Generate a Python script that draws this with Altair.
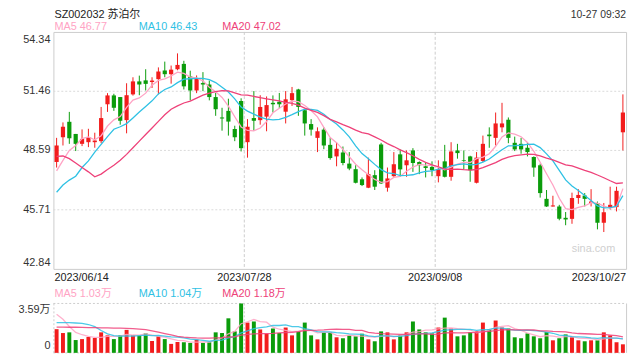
import altair as alt
import pandas as pd

# ---------------- data ----------------
holidays = ["2023-06-22", "2023-06-23", "2023-09-29", "2023-10-02", "2023-10-03",
            "2023-10-04", "2023-10-05", "2023-10-06"]
dates = [d.strftime("%Y-%m-%d") for d in pd.bdate_range("2023-06-14", "2023-10-27")
         if d.strftime("%Y-%m-%d") not in holidays]

opens = [
    48.03, 49.23, 49.98, 49.39, 48.91, 48.99, 48.99, 49.04, 50.83, 51.26,
    51.18, 50.06, 51.31, 51.94, 51.99, 51.91, 52.05, 52.47, 52.29, 52.53,
    52.79, 52.18, 51.50, 51.86, 51.79, 51.18, 50.19, 50.51, 49.63, 50.99,
    48.99, 50.16, 50.06, 50.23, 50.90, 50.95, 50.47, 51.03, 51.55, 50.54,
    49.87, 49.20, 49.60, 48.86, 48.30, 48.49, 47.95, 47.68, 47.19, 46.78,
    47.39, 48.88, 46.78, 47.34, 48.40, 47.87, 48.59, 48.03, 47.82, 47.79,
    47.34, 48.06, 47.31, 48.59, 48.11, 48.30, 47.02, 48.08, 49.36, 49.20,
    49.71, 50.08, 48.96, 48.91, 48.72, 48.27, 47.87, 46.24, 45.87, 45.87,
    45.32, 45.27, 46.28, 46.40, 46.04, 46.04, 45.08, 45.84, 45.84, 49.47]
closes = [
    48.83, 49.74, 49.18, 48.91, 49.15, 49.23, 49.07, 50.16, 51.26, 50.66,
    50.03, 51.27, 51.94, 51.79, 51.82, 51.98, 52.42, 52.29, 52.51, 52.74,
    51.70, 51.50, 52.10, 51.79, 51.18, 50.59, 50.14, 49.99, 49.23, 48.70,
    49.74, 50.03, 50.70, 50.79, 50.83, 50.83, 51.07, 51.37, 50.70, 49.90,
    49.60, 49.52, 48.83, 48.22, 48.67, 47.98, 47.71, 47.02, 46.91, 47.44,
    46.83, 46.99, 47.23, 47.92, 47.67, 48.11, 47.98, 47.87, 47.74, 47.63,
    47.68, 47.31, 48.54, 48.46, 48.08, 47.63, 48.24, 48.91, 49.28, 49.90,
    49.90, 49.20, 48.64, 48.64, 48.51, 47.76, 46.52, 45.87, 45.92, 45.28,
    45.24, 46.28, 46.43, 46.24, 46.11, 45.08, 45.59, 45.95, 46.63, 50.43]
highs = [
    49.20, 49.95, 50.46, 49.39, 49.61, 49.64, 49.45, 50.70, 51.37, 51.34,
    51.18, 51.85, 52.14, 52.22, 52.53, 52.14, 52.62, 52.90, 52.71, 53.30,
    52.94, 52.46, 52.23, 52.39, 51.98, 51.38, 50.66, 51.10, 49.79, 51.12,
    50.11, 51.47, 51.27, 51.21, 51.26, 51.38, 51.47, 51.67, 51.58, 50.59,
    50.11, 49.71, 49.71, 49.20, 48.99, 48.78, 48.51, 47.87, 47.28, 48.24,
    47.63, 48.96, 47.76, 48.51, 48.64, 48.59, 48.70, 48.06, 47.98, 48.06,
    48.11, 48.86, 48.99, 48.91, 48.59, 48.33, 48.51, 49.31, 49.71, 50.43,
    50.90, 50.19, 49.26, 49.20, 48.99, 48.30, 47.95, 46.67, 46.39, 45.95,
    45.60, 46.54, 46.71, 46.52, 46.71, 46.11, 46.04, 46.83, 46.83, 51.31]
lows = [
    47.76, 48.83, 48.91, 48.56, 48.80, 48.75, 48.72, 48.94, 50.46, 50.51,
    49.84, 49.42, 51.25, 51.27, 51.50, 51.62, 51.31, 52.14, 51.83, 52.48,
    51.55, 51.02, 51.37, 51.47, 51.02, 50.27, 49.55, 49.31, 49.04, 48.54,
    48.24, 49.55, 49.84, 49.52, 50.43, 50.64, 49.90, 50.75, 50.27, 49.31,
    49.31, 48.51, 48.65, 48.14, 47.82, 47.87, 47.63, 46.99, 46.86, 46.76,
    46.67, 46.96, 46.59, 47.31, 47.31, 47.31, 47.55, 47.44, 47.28, 47.34,
    47.04, 47.28, 47.12, 48.19, 47.67, 47.07, 46.99, 48.03, 48.72, 48.83,
    49.47, 48.94, 48.56, 48.43, 48.30, 47.31, 46.30, 45.85, 45.86, 45.20,
    44.96, 45.03, 46.00, 45.87, 45.87, 44.76, 44.63, 45.72, 45.63, 48.59]
vols = [  # 万手
    1.72, 1.44, 1.49, 0.93, 1.00, 1.15, 1.08, 1.49, 1.27, 1.00,
    1.27, 1.67, 1.27, 1.25, 1.41, 0.86, 1.20, 1.00, 0.65, 0.79,
    0.77, 0.72, 0.96, 0.72, 0.77, 1.49, 1.44, 2.51, 1.56, 3.59,
    2.20, 2.28, 1.70, 1.39, 1.77, 1.44, 1.84, 1.27, 1.56, 2.20,
    1.27, 0.98, 1.49, 1.49, 1.13, 1.06, 1.27, 1.20, 1.39, 0.98,
    0.84, 1.56, 1.49, 0.98, 1.27, 1.49, 2.28, 1.70, 1.49, 1.41,
    1.84, 2.56, 1.77, 1.20, 1.27, 1.49, 1.56, 2.20, 1.70, 2.35,
    1.84, 1.77, 1.13, 1.06, 1.41, 1.20, 1.06, 1.51, 0.91, 1.06,
    1.34, 1.13, 0.91, 0.84, 0.91, 0.91, 1.49, 1.27, 0.77, 0.62]

ma5_head = [47.60, 48.11, 48.59, 48.83]
ma10_head = [46.56, 46.91, 47.15, 47.34, 47.76, 48.08, 48.51, 48.88, 49.26]
ma20_head = [48.30, 48.32, 48.19, 47.98, 47.76, 47.55, 47.31, 47.44, 47.66, 47.87,
             48.11, 48.40, 48.72, 49.04, 49.36, 49.68, 50.00, 50.32, 50.59]
vma5_head = [2.80, 2.44, 1.92, 1.49]
vma10_head = [2.20, 2.20, 2.19, 2.17, 2.15, 2.06, 1.90, 1.62, 1.38]
vma20_head = [1.87, 1.87, 1.86, 1.86, 1.85, 1.84, 1.83, 1.82, 1.81, 1.80,
              1.79, 1.78, 1.76, 1.73, 1.68, 1.60, 1.50, 1.40, 1.30]

price_ticks = [42.84, 45.71, 48.59, 51.46, 54.34]
vol_max = 3.59
date_ticks = ["2023-06-14", "2023-07-28", "2023-09-08", "2023-10-27"]

title_text = "SZ002032 苏泊尔"
time_text = "10-27 09:32"
price_legend = ["MA5 46.77", "MA10 46.43", "MA20 47.02"]
vol_legend = ["MA5 1.03万", "MA10 1.04万", "MA20 1.18万"]

# ---------------- frame ----------------
df = pd.DataFrame({"date": dates, "o": opens, "h": highs, "l": lows, "c": closes, "vol": vols})
df["dir"] = ["up" if c >= o else "down" for o, c in zip(opens, closes)]


def with_head(series, head):
    s = series.copy()
    s.iloc[:len(head)] = head
    return s


df["ma5"] = with_head(df["c"].rolling(5).mean(), ma5_head)
df["ma10"] = with_head(df["c"].rolling(10).mean(), ma10_head)
df["ma20"] = with_head(df["c"].rolling(20).mean(), ma20_head)
df["vma5"] = with_head(df["vol"].rolling(5).mean(), vma5_head)
df["vma10"] = with_head(df["vol"].rolling(10).mean(), vma10_head)
df["vma20"] = with_head(df["vol"].rolling(20).mean(), vma20_head)

# ---------------- style ----------------
W, H = 580, 325
UP, DOWN = "#f21c1c", "#0b9c0b"
C5, C10, C20 = "#ffa3c4", "#2fc1e4", "#ee4179"
FONT = "Liberation Sans, Arial, Noto Sans CJK SC"
GRID = "#d9d9d9"

XS = alt.Scale(type="band", paddingInner=0, paddingOuter=0)
PY = alt.Scale(domain=[price_ticks[0], price_ticks[-1]], range=[240, 0], nice=False, zero=False)
VY = alt.Scale(domain=[0, vol_max], range=[325, 275], nice=False, zero=False)
COL = alt.Color("dir:N", scale=alt.Scale(domain=["up", "down"], range=[UP, DOWN]), legend=None)

X = alt.X("date:O", scale=XS, axis=None)
base = alt.Chart(df)

layers = []

# price panel frame
layers.append(alt.Chart(pd.DataFrame({"k": [0]})).mark_rect(
    fillOpacity=0, stroke="#cccccc", strokeWidth=1).encode(
    x=alt.value(0.5), x2=alt.value(W + 0.5), y=alt.value(0.5), y2=alt.value(240.5)))

# horizontal dotted grid (price)
layers.append(alt.Chart(pd.DataFrame({"p": price_ticks[1:-1]})).mark_rule(
    color=GRID, strokeDash=[2, 2], strokeWidth=1).encode(
    y=alt.Y("p:Q", scale=PY, axis=None), x=alt.value(0), x2=alt.value(W)))

# vertical dashed date grid, price and volume panels
vdf = pd.DataFrame({"date": date_ticks[1:3]})
layers.append(alt.Chart(vdf).mark_rule(color="#cccccc", strokeDash=[3, 2], strokeWidth=1).encode(
    x=alt.X("date:O", scale=XS, axis=None, bandPosition=0), y=alt.value(0), y2=alt.value(240)))
layers.append(alt.Chart(vdf).mark_rule(color="#cccccc", strokeDash=[2, 2], strokeWidth=1).encode(
    x=alt.X("date:O", scale=XS, axis=None, bandPosition=0), y=alt.value(275), y2=alt.value(325)))

# volume panel frame
layers.append(alt.Chart(pd.DataFrame({"v": [0, vol_max]})).mark_rule(
    color="#cccccc", strokeDash=[2, 2], strokeWidth=1).encode(
    y=alt.Y("v:Q", scale=VY, axis=None), x=alt.value(0), x2=alt.value(W)))
layers.append(alt.Chart(pd.DataFrame({"k": [0]})).mark_rule(
    color="#cccccc", strokeDash=[2, 2], strokeWidth=1).encode(
    x=alt.value(0.5), y=alt.value(275), y2=alt.value(325)))
layers.append(alt.Chart(pd.DataFrame({"k": [0]})).mark_rule(
    color="#cccccc", strokeWidth=1).encode(
    x=alt.value(W + 0.5), y=alt.value(275), y2=alt.value(325)))

# candles
layers.append(base.mark_rule(strokeWidth=1).encode(
    x=X, y=alt.Y("l:Q", scale=PY, axis=None), y2="h:Q", color=COL))
layers.append(base.mark_bar(width=alt.RelativeBandSize(0.66)).encode(
    x=X, y=alt.Y("o:Q", scale=PY, axis=None), y2="c:Q", color=COL))

# price moving averages
for fld, col in [("ma5", C5), ("ma10", C10), ("ma20", C20)]:
    layers.append(base.mark_line(color=col, strokeWidth=1.3).encode(
        x=X, y=alt.Y(f"{fld}:Q", scale=PY, axis=None)))

# volume bars
layers.append(base.mark_bar(width=alt.RelativeBandSize(0.62)).encode(
    x=X, y=alt.Y("vol:Q", scale=VY, axis=None), color=COL))
for fld, col in [("vma5", C5), ("vma10", C10), ("vma20", C20)]:
    layers.append(base.mark_line(color=col, strokeWidth=1.3, opacity=0.85).encode(
        x=X, y=alt.Y(f"{fld}:Q", scale=VY, axis=None)))

# price axis labels
pt = pd.DataFrame({"p": price_ticks, "lab": [f"{v:.2f}" for v in price_ticks]})
for sub, bl in [(pt.iloc[[0]], "bottom"), (pt.iloc[1:-1], "middle"), (pt.iloc[[-1]], "top")]:
    layers.append(alt.Chart(sub).mark_text(
        align="right", baseline=bl, font=FONT, fontSize=11, color="#333333",
        dy=(-1 if bl == "bottom" else (2 if bl == "top" else 0))).encode(
        y=alt.Y("p:Q", scale=PY, axis=None), x=alt.value(-3), text="lab:N"))

# volume axis labels
vt = pd.DataFrame({"v": [vol_max, 0], "lab": [f"{vol_max:.2f}万", "0"]})
layers.append(alt.Chart(vt.iloc[[0]]).mark_text(
    align="right", baseline="top", font=FONT, fontSize=11, color="#333333", dy=1).encode(
    y=alt.Y("v:Q", scale=VY, axis=None), x=alt.value(-3), text="lab:N"))
layers.append(alt.Chart(vt.iloc[[1]]).mark_text(
    align="right", baseline="bottom", font=FONT, fontSize=11, color="#333333", dy=-2).encode(
    y=alt.Y("v:Q", scale=VY, axis=None), x=alt.value(-3), text="lab:N"))

# date labels
dt = pd.DataFrame({"date": date_ticks, "lab": [d.replace("-", "/") for d in date_ticks]})
for sub, al, bp, dx in [(dt.iloc[[0]], "left", 0, 1), (dt.iloc[1:3], "center", 0, 0),
                        (dt.iloc[[3]], "right", 1, 0)]:
    layers.append(alt.Chart(sub).mark_text(
        align=al, baseline="top", font=FONT, fontSize=11, color="#222222", dx=dx).encode(
        x=alt.X("date:O", scale=XS, axis=None, bandPosition=bp), y=alt.value(243), text="lab:N"))


def txt(s, x, y, color, size=11, align="left"):
    return alt.Chart(pd.DataFrame({"t": [s]})).mark_text(
        align=align, baseline="alphabetic", font=FONT, fontSize=size, color=color).encode(
        x=alt.value(x), y=alt.value(y), text="t:N")


layers.append(txt(title_text, 1, -14, "#222222", 11))
layers.append(txt(time_text, W, -14, "#333333", 10.5, "right"))
for s, x, col in zip(price_legend, [1, 86.5, 171], [C5, C10, C20]):
    layers.append(txt(s, x, -1.5, col, 11))
for s, x, col in zip(vol_legend, [1, 86.5, 171], [C5, C10, C20]):
    layers.append(txt(s, x, 268, col, 11))
layers.append(txt("sina.com", 569, 223, "#cfcfcf", 11, "right"))

chart = alt.layer(*layers).resolve_scale(y="independent").properties(
    width=W, height=H,
    autosize=alt.AutoSizeParams(type="none"),
    padding={"left": 46, "top": 22, "right": 6, "bottom": 5},
    background="white",
).configure_view(strokeWidth=0)

chart.save("out.html", embed_options={"renderer": "svg", "actions": False})
